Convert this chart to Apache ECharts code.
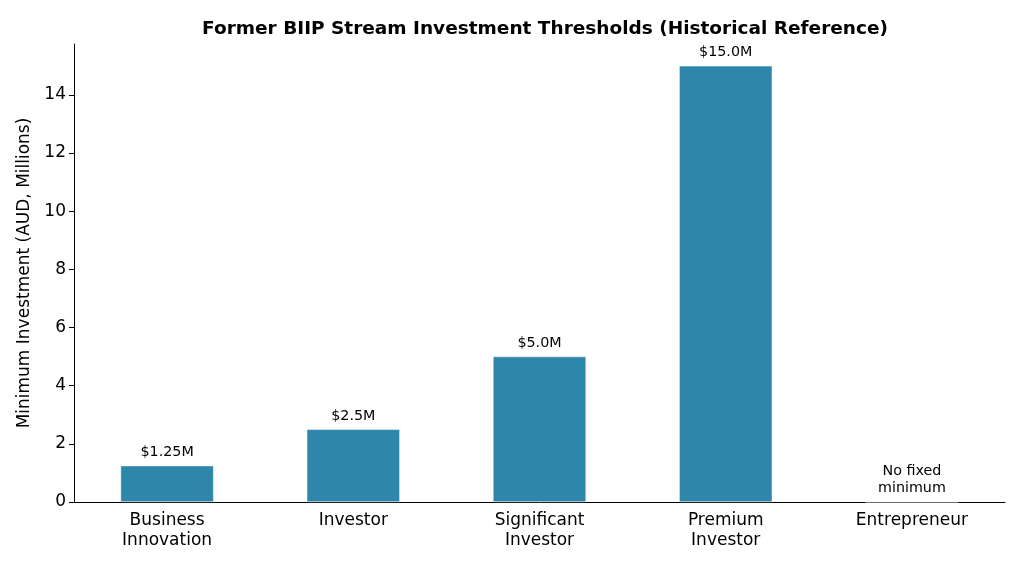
<!DOCTYPE html>
<html>
<head>
<meta charset="utf-8">
<script src="https://cdn.jsdelivr.net/npm/echarts@6/dist/echarts.min.js"></script>
<style>html,body{margin:0;padding:0;background:#fff}#c{width:1024px;height:569px}</style>
</head>
<body>
<div id="c"></div>
<script>
const categories = ['Business\nInnovation', 'Investor', 'Significant\nInvestor', 'Premium\nInvestor', 'Entrepreneur'];
const values = [1.25, 2.5, 5.0, 15.0, 0];
const valueLabels = ['$1.25M', '$2.5M', '$5.0M', '$15.0M', 'No fixed\nminimum'];
const yTicks = [0, 2, 4, 6, 8, 10, 12, 14];

const font = 'DejaVu Sans';
const chart = echarts.init(document.getElementById('c'));
chart.setOption({
  animation: false,
  title: {
    text: 'Former BIIP Stream Investment Thresholds (Historical Reference)',
    left: 540, top: 15, textAlign: 'center',
    textStyle: { fontFamily: font, fontSize: 18.5, fontWeight: 'bold', color: '#000' }
  },
  grid: { left: 74, right: 19, top: 44, bottom: 67 },
  xAxis: {
    type: 'category', data: categories,
    axisLine: { lineStyle: { color: '#000', width: 1 } },
    axisTick: { alignWithLabel: true, length: 5, lineStyle: { color: '#000' } },
    axisLabel: { fontFamily: font, fontSize: 17, color: '#000', lineHeight: 20, margin: 9 }
  },
  yAxis: {
    type: 'value', min: 0, max: 15.75, interval: 2,
    name: 'Minimum Investment (AUD, Millions)', nameLocation: 'middle', nameGap: 41,
    nameTextStyle: { fontFamily: font, fontSize: 17, color: '#000' },
    axisLine: { show: true, lineStyle: { color: '#000', width: 1 } },
    axisTick: { show: true, length: 5, lineStyle: { color: '#000' } },
    splitLine: { show: false },
    axisLabel: {
      fontFamily: font, fontSize: 17, color: '#000', margin: 8, showMaxLabel: false,
      formatter: v => yTicks.includes(v) ? String(v) : ''
    }
  },
  series: [{
    type: 'bar', barWidth: '50%',
    data: values.map((v, i) => ({ value: v, label: { formatter: valueLabels[i] } })),
    itemStyle: { color: '#2E86AB', borderColor: '#ffffff', borderWidth: 0.5 },
    label: { show: true, position: 'top', distance: 5, fontFamily: font, fontSize: 14.3, color: '#000', lineHeight: 17 }
  }]
});
</script>
</body>
</html>
